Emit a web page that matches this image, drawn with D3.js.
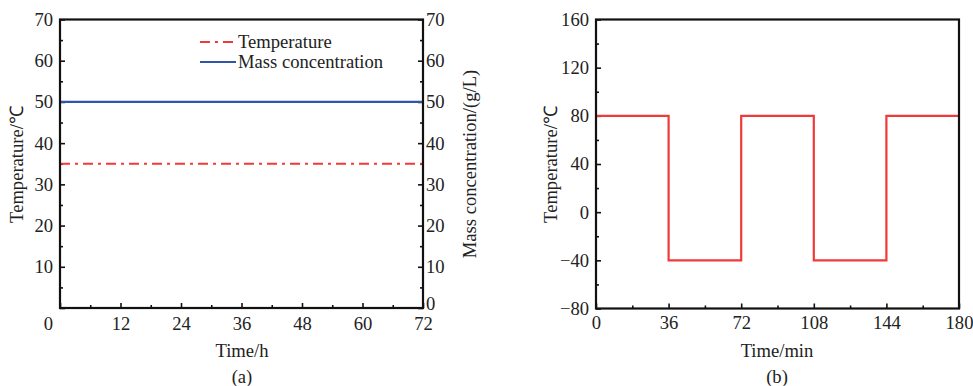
<!DOCTYPE html>
<html>
<head>
<meta charset="utf-8">
<script src="https://cdn.jsdelivr.net/npm/d3@7"></script>
<style>
  body { margin: 0; background: #fff; }
  svg text { font-family: "Liberation Serif", "Times New Roman", serif; font-size: 18.6px; fill: #222; }
  .domain { stroke: none; }
  .tick line { stroke: #111; stroke-width: 1.6; }
</style>
</head>
<body>
<svg id="chart" width="973" height="386"></svg>
<script>
  // panel (a): constant conditions over 72 h
  const timeA = [0, 72]
  const tempA = [35, 35]
  const concA = [50, 50]
  const xTicksA = [0, 12, 24, 36, 48, 60, 72]
  const yTicksA = [0, 10, 20, 30, 40, 50, 60, 70]

  // panel (b): temperature cycling, min
  const timeB = [0, 36, 36, 72, 72, 108, 108, 144, 144, 180]
  const tempB = [80, 80, -40, -40, 80, 80, -40, -40, 80, 80]
  const xTicksB = [0, 36, 72, 108, 144, 180]
  const yTicksB = [-80, -40, 0, 40, 80, 120, 160]

  const red = "#f03a3a"
  const blue = "#2f55a6"

  const svg = d3.select("#chart")

  function minors(ticks) {
    const out = []
    for (let i = 0; i < ticks.length - 1; i++) out.push((ticks[i] + ticks[i + 1]) / 2)
    return out
  }

  function frame(g, x0, x1, y0, y1) {
    g.append("rect")
      .attr("x", x0).attr("y", y0)
      .attr("width", x1 - x0).attr("height", y1 - y0)
      .attr("fill", "none").attr("stroke", "#111").attr("stroke-width", 2.2)
  }

  // ---------- panel (a)
  const xa = d3.scaleLinear().domain([0, 72]).range([60, 423])
  const ya = d3.scaleLinear().domain([0, 70]).range([308, 19.5])
  const ga = svg.append("g")

  ga.append("g").attr("transform", "translate(0,308)")
    .call(d3.axisBottom(xa).tickValues(xTicksA).tickSize(-5).tickPadding(8))
    .selectAll("text").attr("dy", "0.75em")
  ga.selectAll("g.tick text").filter(d => d === 0).attr("x", -12)
  ga.append("g").attr("transform", "translate(0,308)")
    .call(d3.axisBottom(xa).tickValues(minors(xTicksA)).tickSize(-3).tickFormat(""))

  ga.append("g").attr("class", "yl").attr("transform", "translate(60,0)")
    .call(d3.axisLeft(ya).tickValues(yTicksA).tickSize(-5).tickPadding(7)
      .tickFormat(d => d === 0 ? "" : d))
  ga.append("g").attr("transform", "translate(60,0)")
    .call(d3.axisLeft(ya).tickValues(minors(yTicksA)).tickSize(-3).tickFormat(""))

  const yr = ga.append("g").attr("transform", "translate(423,0)")
    .call(d3.axisRight(ya).tickValues(yTicksA).tickSize(-5).tickPadding(3))
  yr.selectAll("text").filter(d => d === 0).attr("dy", "0.1em")
  ga.append("g").attr("transform", "translate(423,0)")
    .call(d3.axisRight(ya).tickValues(minors(yTicksA)).tickSize(-3).tickFormat(""))

  const lineA = d3.line().x(d => xa(d[0])).y(d => ya(d[1]))
  ga.append("path").datum(d3.zip(timeA, concA))
    .attr("d", lineA).attr("fill", "none").attr("stroke", blue).attr("stroke-width", 2.2)
  ga.append("path").datum(d3.zip(timeA, tempA))
    .attr("d", lineA).attr("fill", "none").attr("stroke", red).attr("stroke-width", 2.2)
    .attr("stroke-dasharray", "10,5,3,5")

  frame(ga, 60, 423, 19.5, 308)

  // legend
  const legend = ga.append("g").attr("transform", "translate(200,42)")
  const legendData = [
    { label: "Temperature", color: red, dash: "10,5,3,5" },
    { label: "Mass concentration", color: blue, dash: null }
  ]
  const items = legend.selectAll("g").data(legendData).enter().append("g")
    .attr("transform", (d, i) => `translate(0,${i * 20})`)
  items.append("line").attr("x1", 0).attr("x2", 36).attr("y1", 0).attr("y2", 0)
    .attr("stroke", d => d.color).attr("stroke-width", 2.2)
    .attr("stroke-dasharray", d => d.dash)
  items.append("text").attr("x", 38).attr("y", 6).text(d => d.label)

  ga.append("text").attr("x", 242).attr("y", 357).attr("text-anchor", "middle").text("Time/h")
  ga.append("text").attr("x", 242).attr("y", 383).attr("text-anchor", "middle").text("(a)")
  ga.append("text").attr("transform", "translate(23,164) rotate(-90)")
    .attr("text-anchor", "middle").text("Temperature/℃")
  ga.append("text").attr("transform", "translate(476,164) rotate(-90)")
    .attr("text-anchor", "middle").text("Mass concentration/(g/L)")

  // ---------- panel (b)
  const xb = d3.scaleLinear().domain([0, 180]).range([596, 959])
  const yb = d3.scaleLinear().domain([-80, 160]).range([308.5, 19.5])
  const gb = svg.append("g")

  gb.append("g").attr("transform", "translate(0,308.5)")
    .call(d3.axisBottom(xb).tickValues(xTicksB).tickSize(-5).tickPadding(7))
    .selectAll("text").attr("dy", "0.75em")
  gb.append("g").attr("transform", "translate(0,308.5)")
    .call(d3.axisBottom(xb).tickValues(minors(xTicksB)).tickSize(-3).tickFormat(""))

  gb.append("g").attr("transform", "translate(596,0)")
    .call(d3.axisLeft(yb).tickValues(yTicksB).tickSize(-5).tickPadding(7)
      .tickFormat(d => d < 0 ? "\u2212" + Math.abs(d) : d))
  gb.append("g").attr("transform", "translate(596,0)")
    .call(d3.axisLeft(yb).tickValues(minors(yTicksB)).tickSize(-3).tickFormat(""))

  const lineB = d3.line().x(d => xb(d[0])).y(d => yb(d[1]))
  gb.append("path").datum(d3.zip(timeB, tempB))
    .attr("d", lineB).attr("fill", "none").attr("stroke", red).attr("stroke-width", 2.2)

  frame(gb, 596, 959, 19.5, 308.5)

  gb.append("text").attr("x", 777).attr("y", 357).attr("text-anchor", "middle").text("Time/min")
  gb.append("text").attr("x", 777).attr("y", 383).attr("text-anchor", "middle").text("(b)")
  gb.append("text").attr("transform", "translate(557,164) rotate(-90)")
    .attr("text-anchor", "middle").text("Temperature/℃")
</script>
</body>
</html>
